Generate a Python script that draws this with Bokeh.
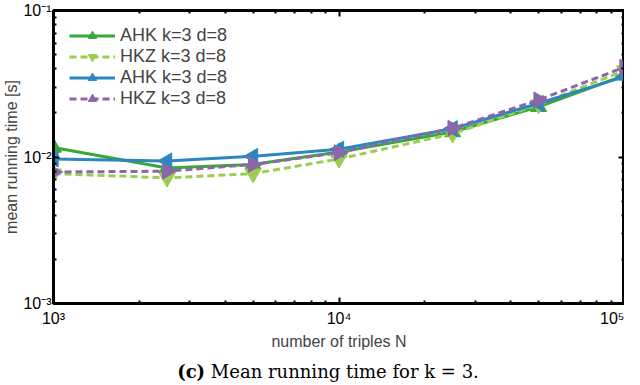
import math
from bokeh.plotting import figure
from bokeh.models import FixedTicker, LogAxis, Legend, LegendItem, CustomJSTickFormatter, Div
from bokeh.layouts import column
from bokeh.embed import file_html
from bokeh.resources import INLINE

N = [1e3, 2.5e3, 5e3, 1e4, 2.5e4, 5e4, 1e5]
ahk1 = [0.0116, 0.0084, 0.0089, 0.0108, 0.0148, 0.0220, 0.0360]
hkz1 = [0.0077, 0.0072, 0.0077, 0.0097, 0.0144, 0.0228, 0.0390]
ahk2 = [0.0097, 0.0094, 0.0101, 0.0113, 0.0156, 0.0232, 0.0354]
hkz2 = [0.0079, 0.0080, 0.0089, 0.0107, 0.0157, 0.0245, 0.0410]

labels = ["AHK k=3 d=8", "HKZ k=3 d=8", "AHK k=3 d=8", "HKZ k=3 d=8"]
colors = ["#36a936", "#9ccd50", "#2e86be", "#8c66aa"]
markers = ["triangle", "inverted_triangle", "triangle", "triangle"]
angles = [0, 0, math.pi / 2, -math.pi / 2]
dashes = ["solid", "7 4", "solid", "7 4"]
series = [ahk1, hkz1, ahk2, hkz2]

x_major = [1e3, 1e4, 1e5]
x_minor = [2e3, 3e3, 4e3, 5e3, 6e3, 7e3, 8e3, 9e3, 2e4, 3e4, 4e4, 5e4, 6e4, 7e4, 8e4, 9e4]
y_major = [1e-3, 1e-2, 1e-1]
y_minor = [2e-3, 3e-3, 4e-3, 5e-3, 6e-3, 7e-3, 8e-3, 9e-3, 2e-2, 3e-2, 4e-2, 5e-2, 6e-2, 7e-2, 8e-2, 9e-2]
x_tick_text = ["10³", "10⁴", "10⁵"]
y_tick_text = ["10⁻³", "10⁻²", "10⁻¹"]
caption_tag = "(c)"
caption_text = "Mean running time for k = 3."

FONT = "Liberation Sans"

FMT_CODE = """
let best = 0, bd = Infinity;
for (let i = 0; i < major.length; i++) {
  const d = Math.abs(Math.log10(major[i]) - Math.log10(tick));
  if (d < bd) { bd = d; best = i; }
}
return labs[best];
"""

p = figure(width=624, height=353, x_axis_type="log", y_axis_type="log",
           x_range=(1e3, 1e5), y_range=(1e-3, 1e-1),
           output_backend="svg", toolbar_location=None,
           min_border_left=46, min_border_right=0, min_border_top=10, min_border_bottom=50)
p.xgrid.visible = False
p.ygrid.visible = False
p.outline_line_color = "black"
p.outline_line_width = 3

xt = FixedTicker(ticks=x_major, minor_ticks=x_minor)
yt = FixedTicker(ticks=y_major, minor_ticks=y_minor)

def style_axis(ax, show_labels=True):
    ax.axis_line_width = 3
    ax.axis_line_color = "black"
    ax.major_tick_in = 6
    ax.major_tick_out = 0
    ax.major_tick_line_width = 2
    ax.minor_tick_in = 3
    ax.minor_tick_out = 0
    ax.minor_tick_line_width = 2
    ax.major_label_text_font = FONT
    ax.major_label_text_color = "black"
    if show_labels:
        ax.major_label_text_font_size = "16px"
        ax.major_label_standoff = 4
    else:
        ax.major_label_text_font_size = "1px"
        ax.major_label_text_alpha = 0
        ax.major_label_standoff = 0
        ax.axis_label_standoff = 0

p.xaxis.ticker = xt
p.yaxis.ticker = yt
p.xaxis.formatter = CustomJSTickFormatter(args=dict(major=x_major, labs=x_tick_text), code=FMT_CODE)
p.yaxis.formatter = CustomJSTickFormatter(args=dict(major=y_major, labs=y_tick_text), code=FMT_CODE)
style_axis(p.xaxis[0])
style_axis(p.yaxis[0])
p.xaxis.major_label_standoff = 6
p.yaxis.major_label_standoff = 2
p.xaxis.axis_label = "number of triples N"
p.yaxis.axis_label = "mean running time [s]"
for ax in (p.xaxis[0], p.yaxis[0]):
    ax.axis_label_text_font = FONT
    ax.axis_label_text_font_size = "16px"
    ax.axis_label_text_font_style = "normal"
p.xaxis.axis_label_standoff = 3
p.yaxis.axis_label_standoff = 0

ra = LogAxis(ticker=yt)
style_axis(ra, show_labels=False)
p.add_layout(ra, "right")
ta = LogAxis(ticker=xt)
style_axis(ta, show_labels=False)
p.add_layout(ta, "above")

items = []
for ys, lab, col, mk, ang, dsh in zip(series, labels, colors, markers, angles, dashes):
    r1 = p.line(N, ys, line_color=col, line_width=3, line_dash=dsh)
    r2 = p.scatter(N, ys, marker=mk, angle=ang, size=16, fill_color=col, line_color=col)
    items.append(LegendItem(label=lab, renderers=[r1, r2]))

leg = Legend(items=items, location=(16, 194), border_line_color=None,
             background_fill_alpha=0, label_text_font=FONT, label_text_font_size="18px",
             glyph_width=46, glyph_height=21, label_height=21, spacing=0,
             margin=0, padding=10, label_standoff=5)
p.add_layout(leg, "center")

cap = Div(text=f"<b>{caption_tag}</b> {caption_text}", width=624, height=27,
          styles={"font-family": "DejaVu Serif", "font-size": "18px", "line-height": "27px",
                  "text-align": "center", "padding-left": "22px", "color": "black"})

layout = column(p, cap, spacing=0)
open("out.html", "w").write(file_html(layout, INLINE))
